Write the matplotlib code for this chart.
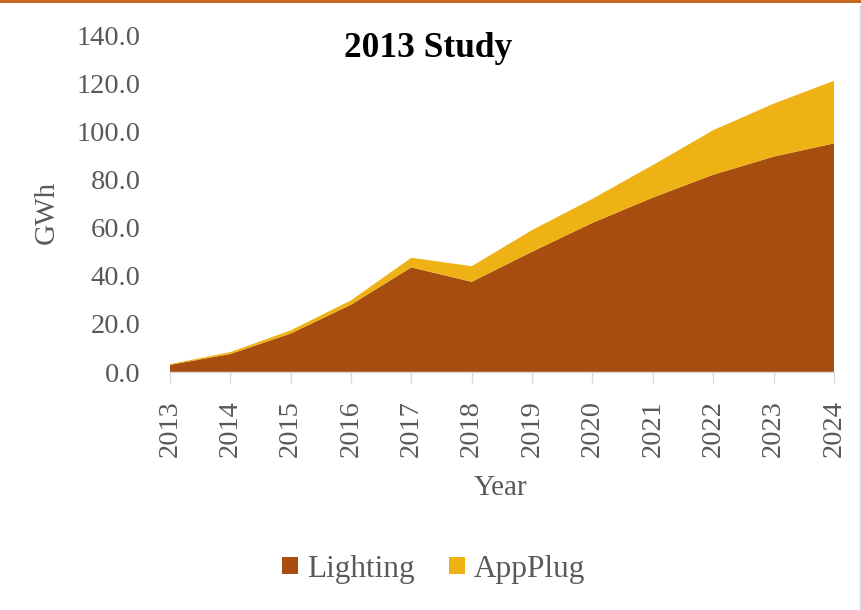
import matplotlib.pyplot as plt
from matplotlib.lines import Line2D

years = list(range(2013, 2025))
lighting = [3.0, 7.5, 16.0, 28.0, 43.5, 37.5, 50.0, 62.0, 72.5, 82.0, 89.5, 95.0]
appplug = [0.3, 0.8, 1.3, 1.8, 4.0, 6.5, 9.0, 10.0, 13.5, 18.5, 22.0, 26.0]
series_names = ["Lighting", "AppPlug"]
series_colors = ["#A64D0F", "#EEB215"]
yticks = [0, 20, 40, 60, 80, 100, 120, 140]

TEXT_GRAY = "#595959"
plt.rcParams['font.family'] = ['Liberation Serif', 'DejaVu Serif']

fig = plt.figure(figsize=(8.62, 6.10), dpi=100)
ax = fig.add_axes([0.197, 0.390, 0.7705, 0.5525])

ax.stackplot(years, lighting, appplug, colors=series_colors,
             labels=series_names, linewidth=0)

ax.set_xlim(years[0], years[-1])
ax.set_ylim(0, 140)
ax.set_yticks(yticks)
ax.set_yticklabels([f"{v:.1f}" for v in yticks])
ax.set_xticks(years)
ax.set_xticklabels([str(y) for y in years], rotation=90)

ax.tick_params(axis='y', length=0, pad=21, labelsize=20.5, labelcolor=TEXT_GRAY)
ax.tick_params(axis='x', length=8, width=1, color="#D9D9D9", pad=12,
               labelsize=20.5, labelcolor=TEXT_GRAY)

for side in ['top', 'right', 'left']:
    ax.spines[side].set_visible(False)
ax.spines['bottom'].set_color("#D9D9D9")
ax.spines['bottom'].set_linewidth(1)

fig.text(0.0545, 0.651, "GWh", rotation=90, ha='center', va='center',
         fontsize=21, color=TEXT_GRAY)
fig.text(0.581, 0.200, "Year", ha='center', va='center',
         fontsize=21, color=TEXT_GRAY)
fig.text(0.497, 0.921, "2013 Study", ha='center', va='center',
         fontsize=25.5, fontweight='bold', color='black')

handles, labels = ax.get_legend_handles_labels()
fig.legend(handles, labels, loc='center', bbox_to_anchor=(0.503, 0.067),
           ncol=2, frameon=False, fontsize=22.5, labelcolor=TEXT_GRAY,
           handlelength=0.5, handleheight=0.5, handletextpad=0.3,
           columnspacing=1.1)

# frame accents along the top and right edges
fig.add_artist(Line2D([0, 1], [0.998, 0.998], color="#C55A11", linewidth=2,
                      transform=fig.transFigure))
fig.add_artist(Line2D([0.998, 0.998], [0, 0.99], color="#D9D9D9", linewidth=1,
                      transform=fig.transFigure))

fig.savefig("out.png", dpi=100)
